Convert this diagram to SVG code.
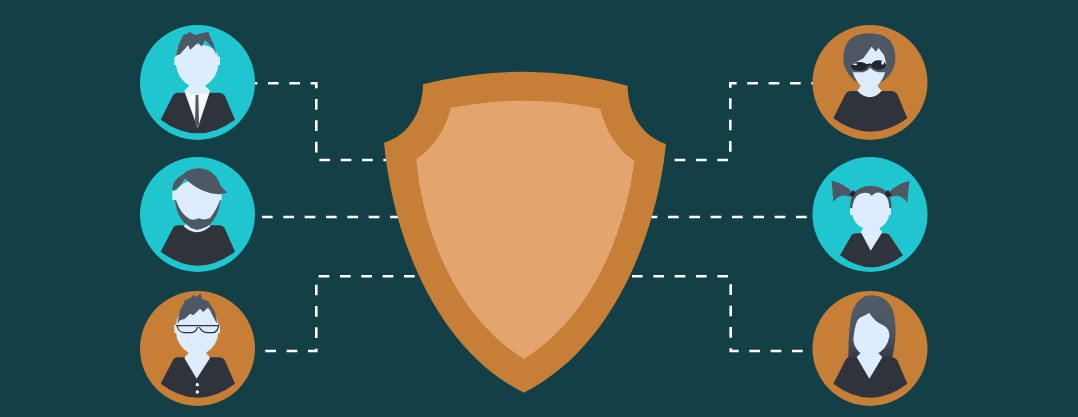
<svg xmlns="http://www.w3.org/2000/svg" width="1078" height="417" viewBox="0 0 1078 417">
<defs>
<linearGradient id="fade" x1="0" y1="0" x2="0" y2="1"><stop offset="0" stop-color="#525c69"/><stop offset=".6" stop-color="#4b5561"/><stop offset="1" stop-color="#343a43"/></linearGradient>
<style>
.link{fill:none;stroke:#fff;stroke-width:2.6;stroke-dasharray:10.67 10.67}
.teal{fill:#1fc6cf}.orange{fill:#c77e36}
.body{fill:#2f343c}.skin{fill:#deecff}.hair{fill:#4d5864}.shirt{fill:#f6f9ff}
.dark{fill:#22262c}.glint{fill:#fff}
.frame{fill:none;stroke:#2f343c;stroke-width:3.5}
</style>
</defs>
<rect width="1078" height="417" fill="#134047"/>
<g id="connectors">
<path class="link" d="M246.67 83.3H316.3V160H390"/>
<path class="link" d="M262 217H420"/>
<path class="link" d="M265.3 351H316.3V276.3H430"/>
<path class="link" d="M822 83.3H730.3V160H650"/>
<path class="link" d="M806.7 217H640"/>
<path class="link" d="M802.7 351H730.7V276.3H625"/>
</g>
<g id="shield">
<path class="orange" d="M423 84.3Q474 71.7 524.3 71.7Q577 71.7 627.7 85.7C627.7 113 642 136 666 144C656 240 610 350 523.7 392.7C438 350 393 240 384 142.7C408 136 423 112 423 84.3Z"/>
<path fill="#e4a46e" d="M451 107.7Q490 100.7 524.3 100.7Q562 100.7 600.3 108.7C605 130 617 149 634.3 160.7C625 235 590 318 524 359C458 318 423 235 416.3 159.3C433 148 445 130 451 107.7Z"/>
</g>
<g id="person-1" transform="translate(130,15) scale(.33333)">
<circle class="teal" cx="202.5" cy="202.5" r="172.5"/>
<path class="body" d="M92 314L128 243Q133 233 145 233H265Q278 233 285 243L315 314Q204 396 92 314Z"/>
<path class="shirt" d="M163 228L178 212H225L240 228L203 340Z"/>
<path class="hair" d="M197 240H205L207 325L201 343L195 325Z"/>
<path class="skin" d="M133 125H138Q145 90 200 88Q255 90 265 125H270V150H265Q262 190 225 212L240 228Q200 250 163 228L178 212Q142 190 138 150H133Z"/>
<path class="hair" d="M138 122L148 85L160 60L175 55L178 50L195 60L215 55L235 50L240 65L250 85L260 122L250 100L225 75L215 95L205 82L180 105L175 90L150 118Z"/>
</g>
<g id="person-2" transform="translate(130,150) scale(.33333)">
<circle class="teal" cx="202.5" cy="193.5" r="172.5"/>
<path class="body" d="M92 305L128 236Q133 226 145 226H265Q278 226 285 236L315 305Q204 389 92 305Z"/>
<path class="skin" d="M160 228L175 218L200 240L230 218L242 228Q200 265 160 228Z"/>
<path class="hair" d="M135 150Q140 205 175 228Q200 250 238 225Q265 200 272 150Z"/>
<path class="skin" d="M127 122H138Q165 85 200 95Q240 110 275 128V150H270Q262 175 240 205Q222 212 205 205Q195 212 180 208Q150 190 138 150H127Z"/>
<path class="hair" d="M127 122Q125 92 160 72Q175 55 210 55Q255 58 272 108L292 128L268 133Q210 130 165 85Q150 115 127 122Z"/>
</g>
<g id="person-3" transform="translate(130,282) scale(.33333)">
<circle class="orange" cx="202.5" cy="199.5" r="172.5"/>
<path class="body" d="M92 305L128 236Q133 226 145 226H265Q278 226 285 236L315 305Q204 389 92 305Z"/>
<path class="skin" d="M133 128H138Q145 75 200 70Q255 75 265 128H270V153H265Q262 192 228 212L240 228L200 290L163 228L176 212Q142 192 138 153H133Z"/>
<path class="hair" d="M142 125L150 85L165 55L185 45L190 38L197 45L212 35L215 50L235 58L255 90L262 125L255 115L235 75L220 90L210 80L190 100L180 95L165 110L150 115Z"/>
<path class="frame" d="M138 131H268M142 132Q145 152 165 152H185Q198 150 203 135M208 135Q215 152 235 152H250Q262 150 266 132"/>
<circle class="glint" cx="202" cy="308" r="5"/>
<circle class="glint" cx="202" cy="330" r="5"/>
</g>
<g id="person-4" transform="translate(800,15) scale(.33333)">
<circle class="orange" cx="210" cy="202.5" r="172.5"/>
<path class="body" d="M100 310L136 238Q141 228 153 228H272Q285 228 292 238L322 310Q212 391 100 310Z"/>
<path class="hair" d="M130 130Q130 55 208 55Q286 55 286 130Q286 175 240 205H175Q130 175 130 130Z"/>
<path class="skin" d="M152 150L190 130L215 95L228 110L235 98L252 120L260 150Q255 190 232 212L245 228Q210 265 172 228L182 212Q160 190 152 150Z"/>
<path class="hair" d="M150 148H262L258 172H236Q220 168 210 158Q200 172 178 172H158Z"/>
<ellipse class="dark" cx="178" cy="154" rx="25" ry="13"/>
<ellipse class="dark" cx="236" cy="150" rx="22" ry="14"/>
<path class="dark" d="M200 148Q208 143 216 147V152Q208 149 200 153Z"/>
<ellipse class="glint" cx="165" cy="148" rx="7" ry="2.5"/>
<ellipse class="glint" cx="248" cy="143" rx="4" ry="6"/>
</g>
<g id="person-5" transform="translate(800,150) scale(.33333)">
<circle class="teal" cx="210" cy="193.5" r="172.5"/>
<path class="body" d="M120 316L152 260Q157 250 168 250H255Q265 250 272 260L309 316Q215 388 120 316Z"/>
<path class="hair" d="M150 175Q150 108 212 108Q275 108 275 175Z"/>
<path class="hair" d="M162 132Q135 100 95 92L100 155Q120 128 150 140Z"/>
<path class="hair" d="M262 132Q290 100 328 93L322 158Q300 128 272 142Z"/>
<path class="dark" d="M148 133L160 120L167 130L157 143Z"/>
<path class="dark" d="M254 130L264 120L275 134L265 143Z"/>
<path class="skin" d="M150 175H157Q160 130 195 128Q210 128 215 138Q225 125 240 128Q268 135 268 175H273V195H268Q262 222 238 235L247 247L212 302L182 245L190 235Q162 222 157 195H150Z"/>
</g>
<g id="person-6" transform="translate(800,282) scale(.33333)">
<circle class="orange" cx="210" cy="199.5" r="172.5"/>
<path fill="url(#fade)" d="M145 232Q145 120 160 80Q180 40 215 40Q265 42 280 90Q290 130 285 180Q282 210 275 232Z"/>
<path class="body" d="M100 305L136 235Q141 225 153 225H272Q285 225 292 235L322 305Q212 389 100 305Z"/>
<path class="skin" d="M170 225L185 210H232L247 225L208 290Z"/>
<path class="skin" d="M160 170Q165 120 178 108L208 93Q225 120 250 130Q270 140 268 165Q260 205 225 218Q200 225 180 212Q160 195 160 170Z"/>
</g>
</svg>
